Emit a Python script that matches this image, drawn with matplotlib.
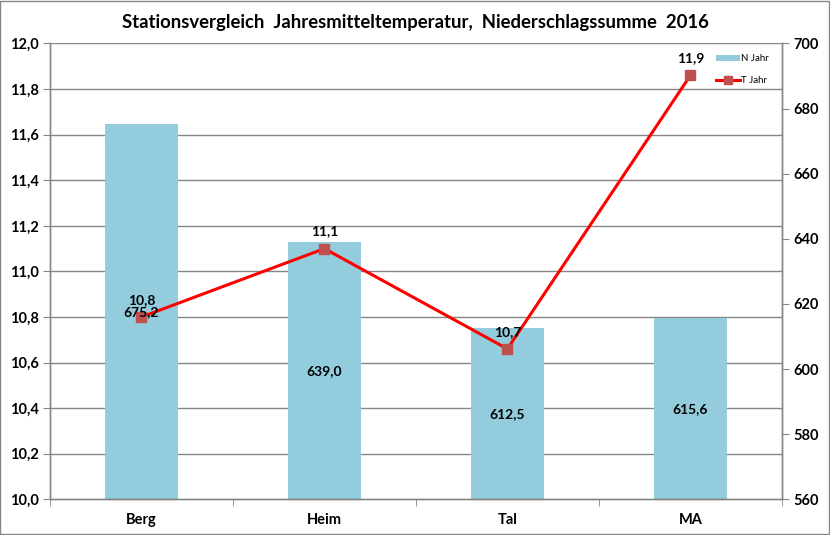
import matplotlib
matplotlib.use("Agg")
import matplotlib.pyplot as plt
from matplotlib.patches import Rectangle

stations = ["Berg", "Heim", "Tal", "MA"]
n_jahr = [675.2, 639.0, 612.5, 615.6]
t_jahr = [10.80, 11.10, 10.66, 11.86]
t_ticks = [10.0, 10.2, 10.4, 10.6, 10.8, 11.0, 11.2, 11.4, 11.6, 11.8, 12.0]
n_ticks = [560, 580, 600, 620, 640, 660, 680, 700]
title = "Stationsvergleich  Jahresmitteltemperatur,  Niederschlagssumme  2016"

plt.rcParams['font.family'] = ['Lato', 'DejaVu Sans']
gray = "#868686"

fig = plt.figure(figsize=(8.3, 5.35), dpi=100)
ax = fig.add_axes([0.0602, 0.0667, 0.8818, 0.852])
ax2 = ax.twinx()

x = list(range(len(stations)))
bars = ax2.bar(x, n_jahr, width=0.4, color="#93CDDD", zorder=2, label="N Jahr")
ax2.set_ylim(560, 700)
ax2.set_yticks(n_ticks)
ax2.set_yticklabels([str(v) for v in n_ticks], fontsize=10.5, fontweight='bold')

for v in t_ticks[1:]:
    nv = 560 + (v - 10.0) / 2.0 * 140
    ax2.axhline(nv, color=gray, lw=1, zorder=0)

ax.set_zorder(ax2.get_zorder() + 1)
ax.patch.set_visible(False)
line, = ax.plot(x, t_jahr, color="#FF0000", lw=2.2, marker='s', markersize=7.5,
                markerfacecolor="#C0504D", markeredgecolor="#C0504D", zorder=4, label="T Jahr")
ax.set_ylim(10.0, 12.0)
ax.set_yticks(t_ticks)
ax.set_yticklabels([f"{v:.1f}".replace(".", ",") for v in t_ticks], fontsize=10.5, fontweight='bold')
ax.set_xlim(-0.5, len(stations) - 0.5)
ax.set_xticks(x)
ax.set_xticklabels(stations, fontsize=10.5, fontweight='bold')
ax.tick_params(axis='x', length=0, pad=10)
ax.set_xticks([i - 0.5 for i in range(len(stations) + 1)], minor=True)
ax.tick_params(axis='x', which='minor', length=5, color=gray)
ax.tick_params(axis='y', length=5, color=gray, pad=3)
ax2.tick_params(axis='y', length=5, color=gray, pad=3)

# bar value labels (drawn on top axes so they sit above the line)
for xi, v in zip(x, n_jahr):
    mid = (560 + v) / 2
    ty = 10.0 + (mid - 560) / 140 * 2.0
    ax.text(xi, ty, f"{v:.1f}".replace(".", ","), ha='center', va='center',
            fontsize=10, fontweight='bold', zorder=6)

for xi, v in zip(x, t_jahr):
    ax.annotate(f"{v:.1f}".replace(".", ","), (xi, v), xytext=(0, 8), textcoords='offset points',
                ha='center', va='bottom', fontsize=10, fontweight='bold', zorder=6)

for a in (ax, ax2):
    a.spines['top'].set_visible(False)
    for s in ('left', 'right', 'bottom'):
        a.spines[s].set_color(gray)
        a.spines[s].set_linewidth(1)

leg = ax.legend([bars, line], ["N Jahr", "T Jahr"], loc='upper left',
                bbox_to_anchor=(0.905, 0.985), frameon=False, fontsize=7,
                handlelength=2.4, handleheight=0.5, handletextpad=0.1, labelspacing=1.3,
                borderaxespad=0, markerscale=0.8)

fig.text(0.5, 0.958, title, ha='center', va='center', fontsize=13.3, fontweight='bold')
fig.patches.append(Rectangle((0.0006, 0.001), 0.998, 0.997, transform=fig.transFigure,
                             fill=False, edgecolor=gray, lw=1))

fig.savefig("out.png", dpi=100)
